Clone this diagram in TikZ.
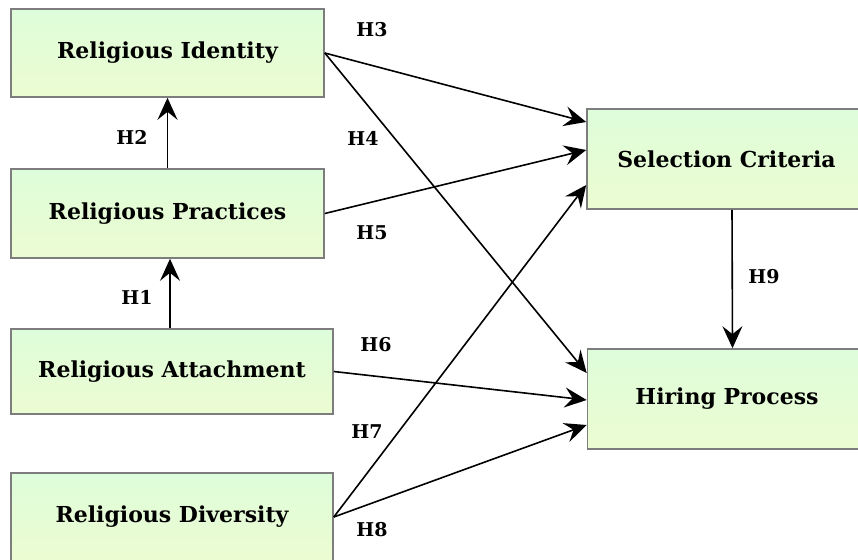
\documentclass[tikz,border=0pt]{standalone}
\usepackage{fontspec}
\setmainfont{DejaVu Serif}
\usepackage{tikz}
\usetikzlibrary{arrows.meta,backgrounds}

\definecolor{boxtop}{RGB}{222,253,218}
\definecolor{boxbottom}{RGB}{236,252,210}
\definecolor{boxline}{RGB}{125,125,125}

\tikzset{
  construct/.style={draw=boxline, line width=1.6pt, top color=boxtop, bottom color=boxbottom,
    font=\fontsize{22}{26}\selectfont\bfseries, inner sep=0pt},
  hyp/.style={font=\fontsize{19}{22}\selectfont\bfseries, inner sep=1pt},
  hyparrow/.style={line width=1.6pt, -{Stealth[length=22pt,width=20pt,inset=8pt]}}
}

\begin{document}
\begin{tikzpicture}[x=1pt,y=-1pt]
\useasboundingbox (0,0) rectangle (858,559);
% constructs
\node[construct, minimum width=313pt, minimum height=88pt] (identity) at (167.5,53) {Religious Identity};
\node[construct, minimum width=313pt, minimum height=89pt] (practices) at (167.5,213.5) {Religious Practices};
\node[construct, minimum width=322pt, minimum height=85pt] (attachment) at (172,371.5) {Religious Attachment};
\node[construct, minimum width=322pt, minimum height=88pt] (diversity) at (172,517) {Religious Diversity};
\node[construct, minimum width=279pt, minimum height=100pt] (selection) at (726.5,159) {Selection Criteria};
\node[construct, minimum width=279pt, minimum height=100pt] (hiring) at (727,399) {Hiring Process};

% paths
\draw[hyparrow] ([xshift=2.5pt]practices.south |- attachment.north) -- ([xshift=2.5pt]practices.south);
\draw[hyparrow] (practices.north) -- (identity.south);
\draw[hyparrow] (identity.east) -- ([yshift=37pt]selection.west);
\draw[hyparrow] (identity.east) -- ([yshift=26pt]hiring.west);
\draw[hyparrow] (practices.east) -- ([yshift=9pt]selection.west);
\draw[hyparrow] (attachment.east) -- ([yshift=-1pt]hiring.west);
\draw[hyparrow] (diversity.east) -- ([yshift=-26pt]selection.west);
\draw[hyparrow] (diversity.east) -- ([yshift=-26pt]hiring.west);
\draw[hyparrow] ([xshift=5.5pt]selection.south) -- ([xshift=5.5pt]hiring.north);

% hypothesis labels
\node[hyp] (h1) at (137,297) {H1};
\node[hyp] (h2) at (132,137) {H2};
\node[hyp] (h3) at (372,30) {H3};
\node[hyp] (h4) at (363,138) {H4};
\node[hyp] (h5) at (372,233) {H5};
\node[hyp] (h6) at (376,345) {H6};
\node[hyp] (h7) at (367,432) {H7};
\node[hyp] (h8) at (372,530) {H8};
\node[hyp] (h9) at (764,277) {H9};
\end{tikzpicture}
\end{document}
